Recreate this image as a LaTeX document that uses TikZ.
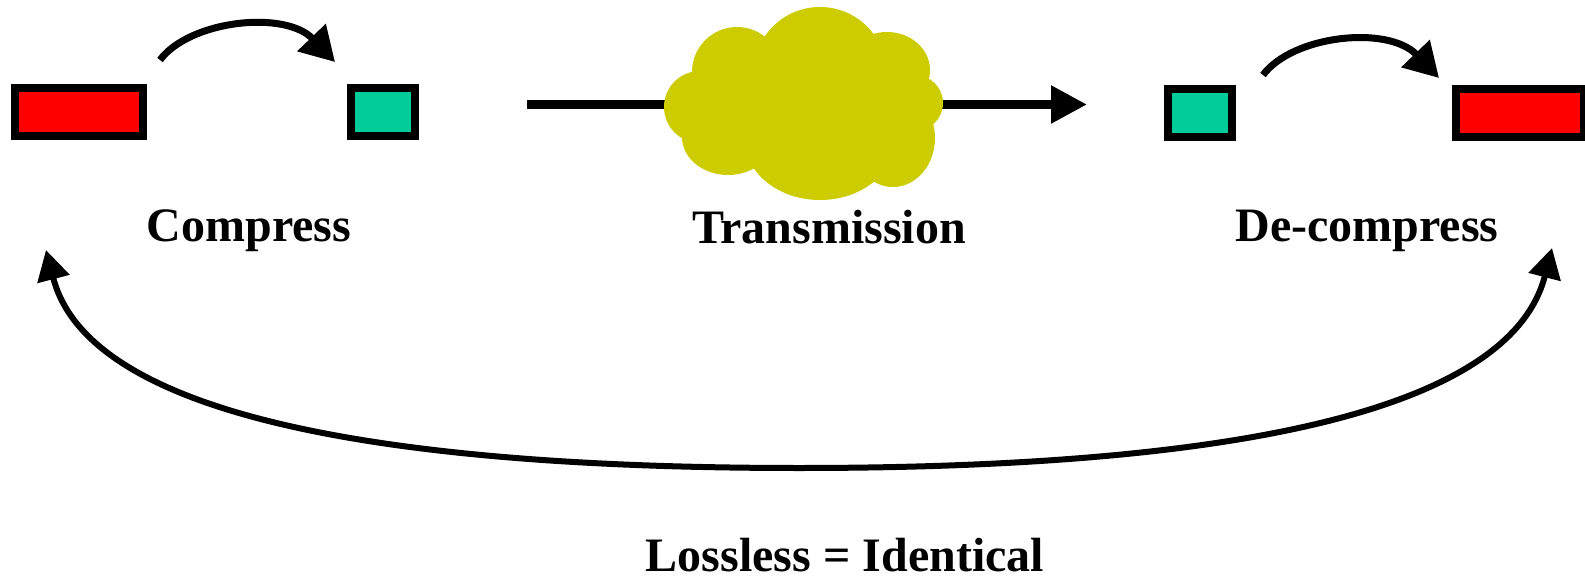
\documentclass[tikz,border=0pt]{standalone}
\usepackage{fontspec}
\setmainfont{Liberation Serif}
\usetikzlibrary{arrows.meta}

\definecolor{boxred}{RGB}{255,0,0}
\definecolor{boxteal}{RGB}{0,204,153}
\definecolor{cloudyellow}{RGB}{204,204,0}

\tikzset{
	databox/.style={draw=black, line width=4pt, minimum height=24pt, inner sep=0pt},
	longbox/.style={databox, fill=boxred, minimum width=64pt},
	shortbox/.style={databox, fill=boxteal, minimum width=32pt},
	boldtext/.style={anchor=base, inner sep=0pt, font=\bfseries\fontsize{24}{28}\selectfont},
	hoparrow/.style={line width=3.5pt, -{Triangle[length=17pt,width=19pt]}},
	sendarrow/.style={line width=4.25pt, -{Triangle[length=18pt,width=18pt]}},
	backarrow/.style={line width=3pt, {Triangle[length=15pt,width=16pt]}-{Triangle[length=15pt,width=16pt]}},
	cloudpart/.style={fill=cloudyellow}
}

\begin{document}
\begin{tikzpicture}[x=0.5pt, y=-0.5pt]
	\useasboundingbox (0,0) rectangle (1585,583);

	% data blocks
	\node[longbox] (orig) at (79,112.5) {};
	\node[shortbox] (packed) at (383,112.5) {};
	\node[shortbox] (received) at (1199.5,113) {};
	\node[longbox] (restored) at (1520,113) {};

	% arrow ends
	\coordinate (hop1s) at (160,60);
	\coordinate (hop1e) at (335,62);
	\coordinate (hop2s) at (1263,75);
	\coordinate (hop2e) at (1439,78);
	\coordinate (sends) at (527,104.5);
	\coordinate (sende) at (1087,104.5);
	\coordinate (backl) at (46,250);
	\coordinate (backb) at (799,468);
	\coordinate (backr) at (1552,248);

	\draw[hoparrow] (hop1s) .. controls (190,20) and (285,10) .. (hop1e);
	\draw[hoparrow] (hop2s) .. controls (1293,35) and (1388,25) .. (hop2e);

	\draw[sendarrow] (sends) -- (sende);

	% cloud
	\fill[cloudpart] (810,110) ellipse [x radius=110, y radius=60];
	\fill[cloudpart] (820,72) ellipse [x radius=66, y radius=65];
	\fill[cloudpart] (737,72) circle (45);
	\fill[cloudpart] (700,107) circle (36);
	\fill[cloudpart] (728,137) ellipse [x radius=46, y radius=38];
	\fill[cloudpart] (820,140) ellipse [x radius=75, y radius=60];
	\fill[cloudpart] (893,138) ellipse [x radius=42, y radius=49];
	\fill[cloudpart] (915,103) circle (28);
	\fill[cloudpart] (887,70) ellipse [x radius=43, y radius=38];

	\draw[backarrow] (backl) .. controls (90,420) and (400,468) .. (backb)
		.. controls (1198,468) and (1508,420) .. (backr);

	\node[boldtext] (compress) at (249,242) {Compress};
	\node[boldtext] (transmission) at (829,243) {Transmission};
	\node[boldtext] (decompress) at (1367,242) {De-compress};
	\node[boldtext] (lossless) at (845,571) {Lossless = Identical};
\end{tikzpicture}
\end{document}
